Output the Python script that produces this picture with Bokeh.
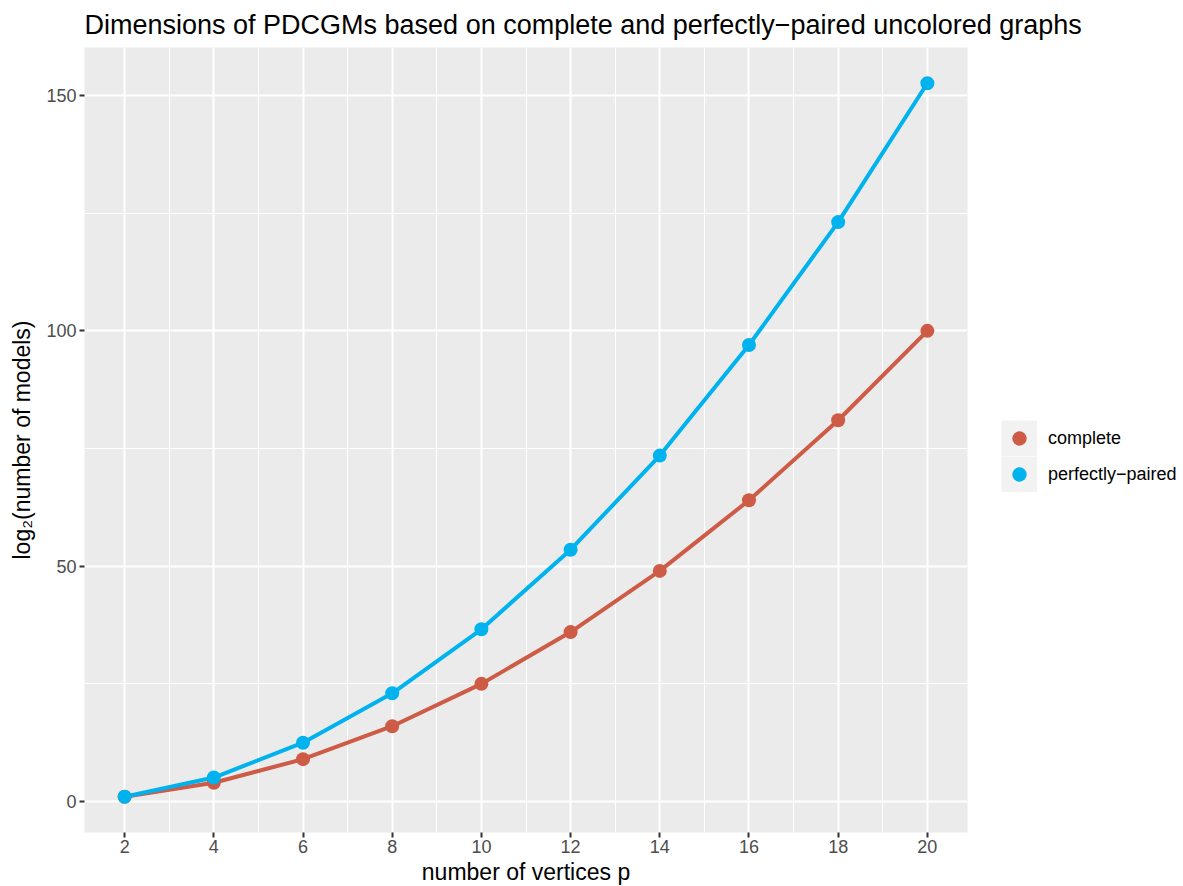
from bokeh.plotting import figure
from bokeh.models import Legend, LegendItem, FixedTicker, ColumnDataSource
from bokeh.embed import file_html
from bokeh.resources import INLINE

# ---- data ----
p_vals = [2, 4, 6, 8, 10, 12, 14, 16, 18, 20]
complete = [1, 4, 9, 16, 25, 36, 49, 64, 81, 100]
perfectly_paired = [1, 5.1, 12.5, 23, 36.6, 53.5, 73.5, 97, 123.1, 152.6]
series_names = ["complete", "perfectly\u2212paired"]
series_colors = ["#CD5B45", "#00B2EE"]
x_ticks = [2, 4, 6, 8, 10, 12, 14, 16, 18, 20]
x_minor = [3, 5, 7, 9, 11, 13, 15, 17, 19]
y_ticks = [0, 50, 100, 150]
y_minor = [25, 75, 125]

FONT = "Liberation Sans"
NAN = float("nan")

p = figure(
    frame_width=883, frame_height=785,
    min_border_left=84, min_border_right=216,
    min_border_top=47, min_border_bottom=40,
    x_range=(1.1, 20.9), y_range=(-6.58, 160.2),
    output_backend="svg", toolbar_location=None,
    title="Dimensions of PDCGMs based on complete and perfectly\u2212paired uncolored graphs",
)
p.background_fill_color = "#EBEBEB"
p.border_fill_color = "white"
p.outline_line_color = None

p.title.text_font = FONT
p.title.text_font_size = "27px"
p.title.text_font_style = "normal"
p.title.text_color = "black"
p.title.offset = 0
p.title.standoff = 15

p.xaxis.ticker = FixedTicker(ticks=x_ticks, minor_ticks=x_minor)
p.yaxis.ticker = FixedTicker(ticks=y_ticks, minor_ticks=y_minor)
for ax in (p.xaxis[0], p.yaxis[0]):
    ax.axis_line_color = None
    ax.major_tick_line_color = "#333333"
    ax.major_tick_line_width = 2
    ax.major_tick_out = 5
    ax.major_tick_in = 0
    ax.minor_tick_line_color = None
    ax.major_label_text_font = FONT
    ax.major_label_text_font_size = "18px"
    ax.major_label_text_color = "#4D4D4D"
    ax.major_label_standoff = 2
    ax.axis_label_text_font = FONT
    ax.axis_label_text_font_size = "23px"
    ax.axis_label_text_font_style = "normal"
    ax.axis_label_text_color = "black"
    ax.axis_label_standoff = 3
p.yaxis.major_label_standoff = 3
p.yaxis.axis_label_standoff = 8

p.xaxis.axis_label = "number of vertices p"
p.yaxis.axis_label = "log\u2082(number of models)"

p.xgrid.grid_line_color = "white"
p.ygrid.grid_line_color = "white"
p.xgrid.grid_line_width = 2
p.ygrid.grid_line_width = 2
p.xgrid.minor_grid_line_color = "white"
p.ygrid.minor_grid_line_color = "white"
p.xgrid.minor_grid_line_width = 1
p.ygrid.minor_grid_line_width = 1

src_c = ColumnDataSource(dict(x=p_vals, y=complete))
src_p = ColumnDataSource(dict(x=p_vals, y=perfectly_paired))

p.line("x", "y", source=src_c, line_color=series_colors[0], line_width=4)
p.line("x", "y", source=src_p, line_color=series_colors[1], line_width=4)
r_c = p.scatter("x", "y", source=src_c, size=14, fill_color=series_colors[0], line_color=None)
r_p = p.scatter("x", "y", source=src_p, size=14, fill_color=series_colors[1], line_color=None)

# invisible (NaN) wide line: only used to paint the grey legend-key background
key_bg = p.line(x=[NAN], y=[NAN], line_color="#F2F2F2", line_width=36, line_cap="butt")

leg = Legend(
    items=[LegendItem(label=series_names[0], renderers=[key_bg, r_c]),
           LegendItem(label=series_names[1], renderers=[key_bg, r_p])],
    location=(34, 340), orientation="vertical",
    glyph_width=36, glyph_height=36, spacing=0, padding=0, margin=0,
    label_standoff=11, label_height=36,
    label_text_font=FONT, label_text_font_size="18px", label_text_color="black",
    background_fill_alpha=0, border_line_color=None,
)
p.add_layout(leg, "right")

open("out.html", "w").write(file_html(p, INLINE))
